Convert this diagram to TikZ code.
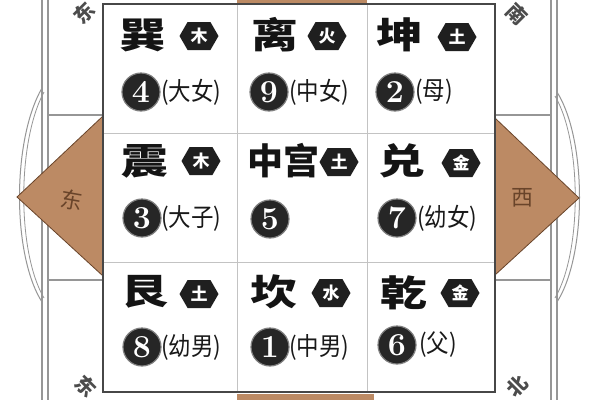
\documentclass[tikz,border=0pt]{standalone}
\usepackage{fontspec}
\newfontfamily\cjk{Noto Sans CJK SC}
\usetikzlibrary{shapes.symbols}
\definecolor{brownfill}{RGB}{188,138,100}
\definecolor{brownline}{RGB}{105,68,42}
\definecolor{gridgray}{RGB}{195,195,195}
\definecolor{framegray}{RGB}{150,150,150}
\begin{document}
\begin{tikzpicture}[x=1pt,y=-1pt,
  namestyle/.style={inner sep=0pt, text=black!92, font=\cjk\bfseries\fontsize{36}{36}\selectfont},
  badge/.style={signal, signal to=west and east, signal pointer angle=120, fill=black!88, text=white, minimum width=39pt, minimum height=28pt, inner sep=0pt, font=\cjk\bfseries\fontsize{17}{17}\selectfont},
  numdisc/.style={circle, fill=black!85, draw=black!50, line width=1.2pt, text=white, minimum size=38pt, inner sep=0pt, font=\bfseries\fontsize{32}{32}\selectfont},
  relstyle/.style={anchor=west, inner sep=0pt, text=black!90, font=\cjk\fontsize{25}{25}\selectfont},
  framestyle/.style={draw=framegray, line width=1.3pt},
  trianglestyle/.style={fill=brownfill, draw=brownline, line width=0.8pt},
  dirstyle/.style={text=brownline, inner sep=0pt, font=\cjk\fontsize{22}{22}\selectfont},
  cornerstyle/.style={text=black!70, inner sep=0pt, font=\cjk\bfseries\fontsize{20}{20}\selectfont},
]
\useasboundingbox (0,0) rectangle (600,400);
\clip (0,0) rectangle (600,400);
\fill[white] (0,0) rectangle (600,400);

% outer frame lines
\draw[framestyle] (42,0) -- (42,400);
\draw[framestyle] (48,0) -- (48,400);
\draw[framestyle] (551,0) -- (551,400);
\draw[framestyle] (557,0) -- (557,400);
\draw[framestyle] (48,115) -- (103,115);
\draw[framestyle] (48,280) -- (103,280);
\draw[framestyle] (495,115) -- (551,115);
\draw[framestyle] (495,280) -- (551,280);
% arcs
\draw[draw=framegray, line width=1pt] (42,88) .. controls (12,140) and (12,255) .. (42,302);
\draw[draw=framegray, line width=0.8pt] (44,92) .. controls (17,142) and (17,252) .. (44,298);
\draw[draw=framegray, line width=1pt] (557,92) .. controls (587,140) and (587,255) .. (557,302);
\draw[draw=framegray, line width=0.8pt] (555,96) .. controls (582,142) and (582,252) .. (555,298);

% brown direction triangles
\path[trianglestyle] (103,116) -- (17,197) -- (103,276) -- cycle;
\path[trianglestyle] (495,118) -- (579,198) -- (495,275) -- cycle;
\fill[brownfill] (237,0) rectangle (367,3);
\fill[brownfill] (237,394) rectangle (374,400);
\node[dirstyle, rotate=-10] (east) at (72,200) {东};
\node[dirstyle] (west) at (522,198) {西};

% corner fragments
\node[cornerstyle, rotate=45] (ctl) at (84,13) {东};
\node[cornerstyle, rotate=-45] (ctr) at (517,14) {南};
\node[cornerstyle, rotate=-45] (cbl) at (86,386) {东};
\node[cornerstyle, rotate=45] (cbr) at (517,386) {北};

% main square
\fill[white] (103,4) rectangle (495,392);
\draw[gridgray, line width=1pt] (237,4) -- (237,392);
\draw[gridgray, line width=1pt] (367,4) -- (367,392);
\draw[gridgray, line width=1pt] (103,133) -- (495,133);
\draw[gridgray, line width=1pt] (103,262) -- (495,262);
\draw[black!72, line width=2.6pt] (103,4) rectangle (495,392);

% top row
\node[namestyle] (n4) at (143,35) {\scalebox{1.3}[1]{巽}};
\node[badge] (b4) at (199,36) {木};
\node[numdisc] (d4) at (141,92) {4};
\node[relstyle] (r4) at (161,92) {\scalebox{0.9}[1]{(大女)}};

\node[namestyle] (n9) at (275,35) {\scalebox{1.3}[1]{离}};
\node[badge] (b9) at (327,36) {火};
\node[numdisc] (d9) at (269,92) {9};
\node[relstyle] (r9) at (289,92) {\scalebox{0.9}[1]{(中女)}};

\node[namestyle] (n2) at (400,35) {\scalebox{1.3}[1]{坤}};
\node[badge] (b2) at (457,37) {土};
\node[numdisc] (d2) at (395,92) {2};
\node[relstyle] (r2) at (415,92) {\scalebox{0.9}[1]{(母)}};

% middle row
\node[namestyle] (n3) at (145,161) {\scalebox{1.3}[1]{震}};
\node[badge] (b3) at (201,161) {木};
\node[numdisc] (d3) at (142,218) {3};
\node[relstyle] (r3) at (161,218) {\scalebox{0.9}[1]{(大子)}};

\node[namestyle] (n5) at (283,161) {中宫};
\node[badge] (b5) at (339,162) {土};
\node[numdisc] (d5) at (270,219) {5};

\node[namestyle] (n7) at (402,161) {\scalebox{1.3}[1]{兑}};
\node[badge] (b7) at (461,163) {金};
\node[numdisc] (d7) at (397,218) {7};
\node[relstyle] (r7) at (417,218) {\scalebox{0.9}[1]{(幼女)}};

% bottom row
\node[namestyle] (n8) at (145,292) {\scalebox{1.3}[1]{艮}};
\node[badge] (b8) at (199,294) {土};
\node[numdisc] (d8) at (142,347) {8};
\node[relstyle] (r8) at (161,347) {\scalebox{0.9}[1]{(幼男)}};

\node[namestyle] (n1) at (274,292) {\scalebox{1.3}[1]{坎}};
\node[badge] (b1) at (331,293) {水};
\node[numdisc] (d1) at (270,347) {1};
\node[relstyle] (r1) at (289,347) {\scalebox{0.9}[1]{(中男)}};

\node[namestyle] (n6) at (404,293) {\scalebox{1.3}[1]{乾}};
\node[badge] (b6) at (460,293) {金};
\node[numdisc] (d6) at (397,345) {6};
\node[relstyle] (r6) at (419,345) {\scalebox{0.9}[1]{(父)}};
\end{tikzpicture}
\end{document}
